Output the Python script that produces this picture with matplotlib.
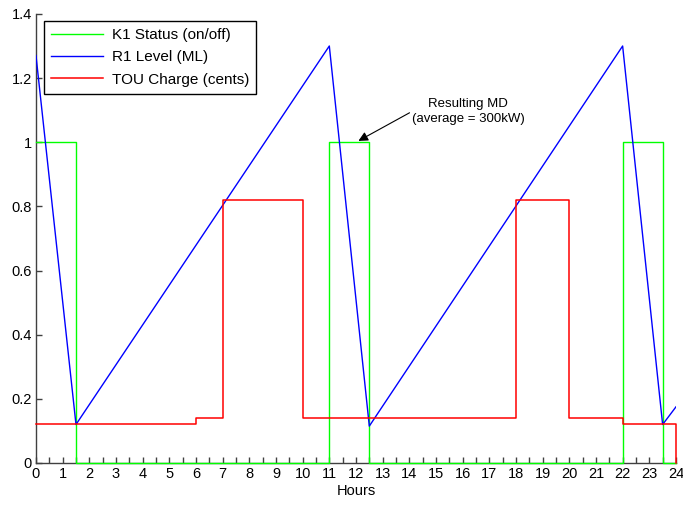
import numpy as np
import matplotlib
matplotlib.use('Agg')
import matplotlib.pyplot as plt
from matplotlib.ticker import MultipleLocator

plt.rcParams['font.family'] = ['Liberation Sans', 'DejaVu Sans']

# K1 pump status (step changes)
k1_hours = [0, 1.5, 1.5, 11, 11, 12.5, 12.5, 22, 22, 23.5, 23.5, 24]
k1_status = [1, 1, 0, 0, 1, 1, 0, 0, 1, 1, 0, 0]

# R1 reservoir level
r1_hours = [0, 1.5, 11, 12.5, 22, 23.5, 24]
r1_level = [1.27, 0.12, 1.30, 0.115, 1.30, 0.12, 0.175]

# TOU charge (step changes)
tou_hours = [0, 6, 6, 7, 7, 10, 10, 18, 18, 20, 20, 22, 22, 24, 24]
tou_charge = [0.12, 0.12, 0.14, 0.14, 0.82, 0.82, 0.14, 0.14, 0.82, 0.82,
              0.14, 0.14, 0.12, 0.12, 0]

fig = plt.figure(figsize=(6.83, 5.08), dpi=100)
ax = fig.add_axes([0.0527, 0.0886, 0.937, 0.884])

ax.plot(k1_hours, k1_status, color='#00ff00', lw=1, label='K1 Status (on/off)',
        zorder=3, clip_on=False)
ax.plot(r1_hours, r1_level, color='#0000ff', lw=1, label='R1 Level (ML)', zorder=3)
ax.plot(tou_hours, tou_charge, color='#ff0000', lw=1.1, label='TOU Charge (cents)',
        zorder=3, clip_on=False)

ax.set_xlim(0, 24)
ax.set_ylim(0, 1.4)
ax.xaxis.set_major_locator(MultipleLocator(1))
ax.xaxis.set_minor_locator(MultipleLocator(0.5))
ax.set_yticks(np.arange(0, 1.41, 0.2))
ax.set_yticklabels(['0', '0.2', '0.4', '0.6', '0.8', '1', '1.2', '1.4'])
ax.tick_params(which='both', direction='in', length=4, width=1, color='#404040',
               labelsize=10.5, pad=3)
ax.spines['top'].set_visible(False)
ax.spines['right'].set_visible(False)
for s in ('left', 'bottom'):
    ax.spines[s].set_color('#404040')
    ax.spines[s].set_linewidth(1)

ax.set_xlabel('Hours', fontsize=10.5, labelpad=2)

leg = ax.legend(loc='upper left', bbox_to_anchor=(0.0125, 0.984), fontsize=11,
                handlelength=3.4, fancybox=False, framealpha=1,
                borderpad=0.45, labelspacing=0.55, handletextpad=0.6,
                borderaxespad=0)
leg.get_frame().set_edgecolor('black')
leg.get_frame().set_linewidth(1)

ax.annotate('', xy=(12, 1.0), xytext=(14.1, 1.096),
            arrowprops=dict(arrowstyle='-|>', color='black', lw=0.8,
                            mutation_scale=14))
ax.text(16.2, 1.095, 'Resulting MD\n(average = 300kW)', ha='center', va='center',
        fontsize=9.5, linespacing=1.3)

fig.savefig('out.png', dpi=100)
